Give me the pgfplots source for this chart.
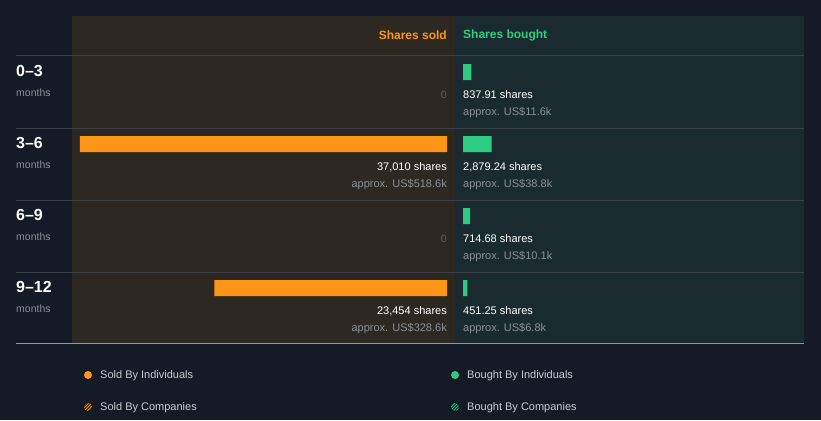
\documentclass[border=0pt]{standalone}
\usepackage{fontspec}
\setmainfont{Liberation Sans}
\usepackage{pgfplots}
\usepackage{pgfplotstable}
\pgfplotsset{compat=1.18}
\usetikzlibrary{patterns}
\definecolor{bg}{HTML}{151B26}
\definecolor{soldbg}{HTML}{2D2822}
\definecolor{boughtbg}{HTML}{192B2E}
\definecolor{sold}{HTML}{FF9517}
\definecolor{bought}{HTML}{2ECC80}
\definecolor{sep}{HTML}{3A3F47}
\definecolor{bottomline}{HTML}{8F959C}
\definecolor{subtext}{HTML}{8A8F96}
\definecolor{zerotext}{HTML}{5E5E5E}
\definecolor{legtext}{HTML}{C9CCD1}

\pgfplotstableread{
idx value
1 37010
3 23454
}\soldtable
\pgfplotstableread{
idx value
0 837.91
1 2879.24
2 714.68
3 451.25
}\boughttable

\newcommand{\fs}[1]{\fontsize{#1}{#1}\selectfont}

\begin{document}
\begin{tikzpicture}[x=1pt,y=-1pt]
\path[use as bounding box, fill=bg] (0,0) rectangle (821,420);
\fill[soldbg] (72,16) rectangle (455,343);
\fill[boughtbg] (455,16) rectangle (804,343);
\foreach \y in {56,128,200,272} \draw[sep, line width=1pt] (16,\y) -- (804,\y);
\draw[bottomline, line width=1pt] (16,343) -- (804,343);

\begin{axis}[at={(447pt,-72pt)}, anchor=north east, scale only axis,
  width=367pt, height=216pt, x dir=reverse, xmin=0, xmax=37010,
  ymin=0, ymax=3, y dir=reverse, hide axis, clip=false, xbar, bar width=16pt]
\addplot[fill=sold, draw=none] table[x=value,y=idx]{\soldtable};
\end{axis}
\begin{axis}[at={(463pt,-72pt)}, anchor=north west, scale only axis,
  width=367pt, height=216pt, xmin=0, xmax=37010,
  ymin=0, ymax=3, y dir=reverse, hide axis, clip=false, xbar, bar width=16pt]
\addplot[fill=bought, draw=none] table[x=value,y=idx]{\boughttable};
\end{axis}

\node[anchor=east, inner sep=0, text=sold, font=\bfseries\fs{12}] at (447,35) {Shares sold};
\node[anchor=west, inner sep=0, text=bought, font=\bfseries\fs{12}] at (463,35) {Shares bought};

\foreach \r/\lab in {0/0–3,1/3–6,2/6–9,3/9–12}{
  \pgfmathsetmacro{\T}{56+72*\r}
  \node[anchor=west, inner sep=0, text=white, font=\bfseries\fs{16}] at (16,\T+15) {\lab};
  \node[anchor=west, inner sep=0, text=subtext, font=\fs{10.5}] at (16,\T+37) {months};
}

% sold labels
\node[anchor=east, inner sep=0, text=zerotext, font=\fs{10.5}] at (447,95) {0};
\node[anchor=east, inner sep=0, text=white, font=\fs{11}] at (447,167) {37,010 shares};
\node[anchor=east, inner sep=0, text=subtext, font=\fs{11}] at (447,185) {approx. US\$518.6k};
\node[anchor=east, inner sep=0, text=zerotext, font=\fs{10.5}] at (447,239) {0};
\node[anchor=east, inner sep=0, text=white, font=\fs{11}] at (447,311) {23,454 shares};
\node[anchor=east, inner sep=0, text=subtext, font=\fs{11}] at (447,329) {approx. US\$328.6k};
% bought labels
\node[anchor=west, inner sep=0, text=white, font=\fs{11}] at (463,95) {837.91 shares};
\node[anchor=west, inner sep=0, text=subtext, font=\fs{11}] at (463,113) {approx. US\$11.6k};
\node[anchor=west, inner sep=0, text=white, font=\fs{11}] at (463,167) {2,879.24 shares};
\node[anchor=west, inner sep=0, text=subtext, font=\fs{11}] at (463,185) {approx. US\$38.8k};
\node[anchor=west, inner sep=0, text=white, font=\fs{11}] at (463,239) {714.68 shares};
\node[anchor=west, inner sep=0, text=subtext, font=\fs{11}] at (463,257) {approx. US\$10.1k};
\node[anchor=west, inner sep=0, text=white, font=\fs{11}] at (463,311) {451.25 shares};
\node[anchor=west, inner sep=0, text=subtext, font=\fs{11}] at (463,329) {approx. US\$6.8k};

% legend
\fill[sold] (88,375) circle (4);
\fill[bought] (455,375) circle (4);
\fill[sold!35!black] (88,407) circle (4);
\path[pattern=north east lines, pattern color=sold] (88,407) circle (4);
\fill[bought!35!black] (455,407) circle (4);
\path[pattern=north east lines, pattern color=bought] (455,407) circle (4);
\node[anchor=west, inner sep=0, text=legtext, font=\fs{11}] at (100,376) {Sold By Individuals};
\node[anchor=west, inner sep=0, text=legtext, font=\fs{11}] at (467,376) {Bought By Individuals};
\node[anchor=west, inner sep=0, text=legtext, font=\fs{11}] at (100,408) {Sold By Companies};
\node[anchor=west, inner sep=0, text=legtext, font=\fs{11}] at (467,408) {Bought By Companies};
\end{tikzpicture}
\end{document}
